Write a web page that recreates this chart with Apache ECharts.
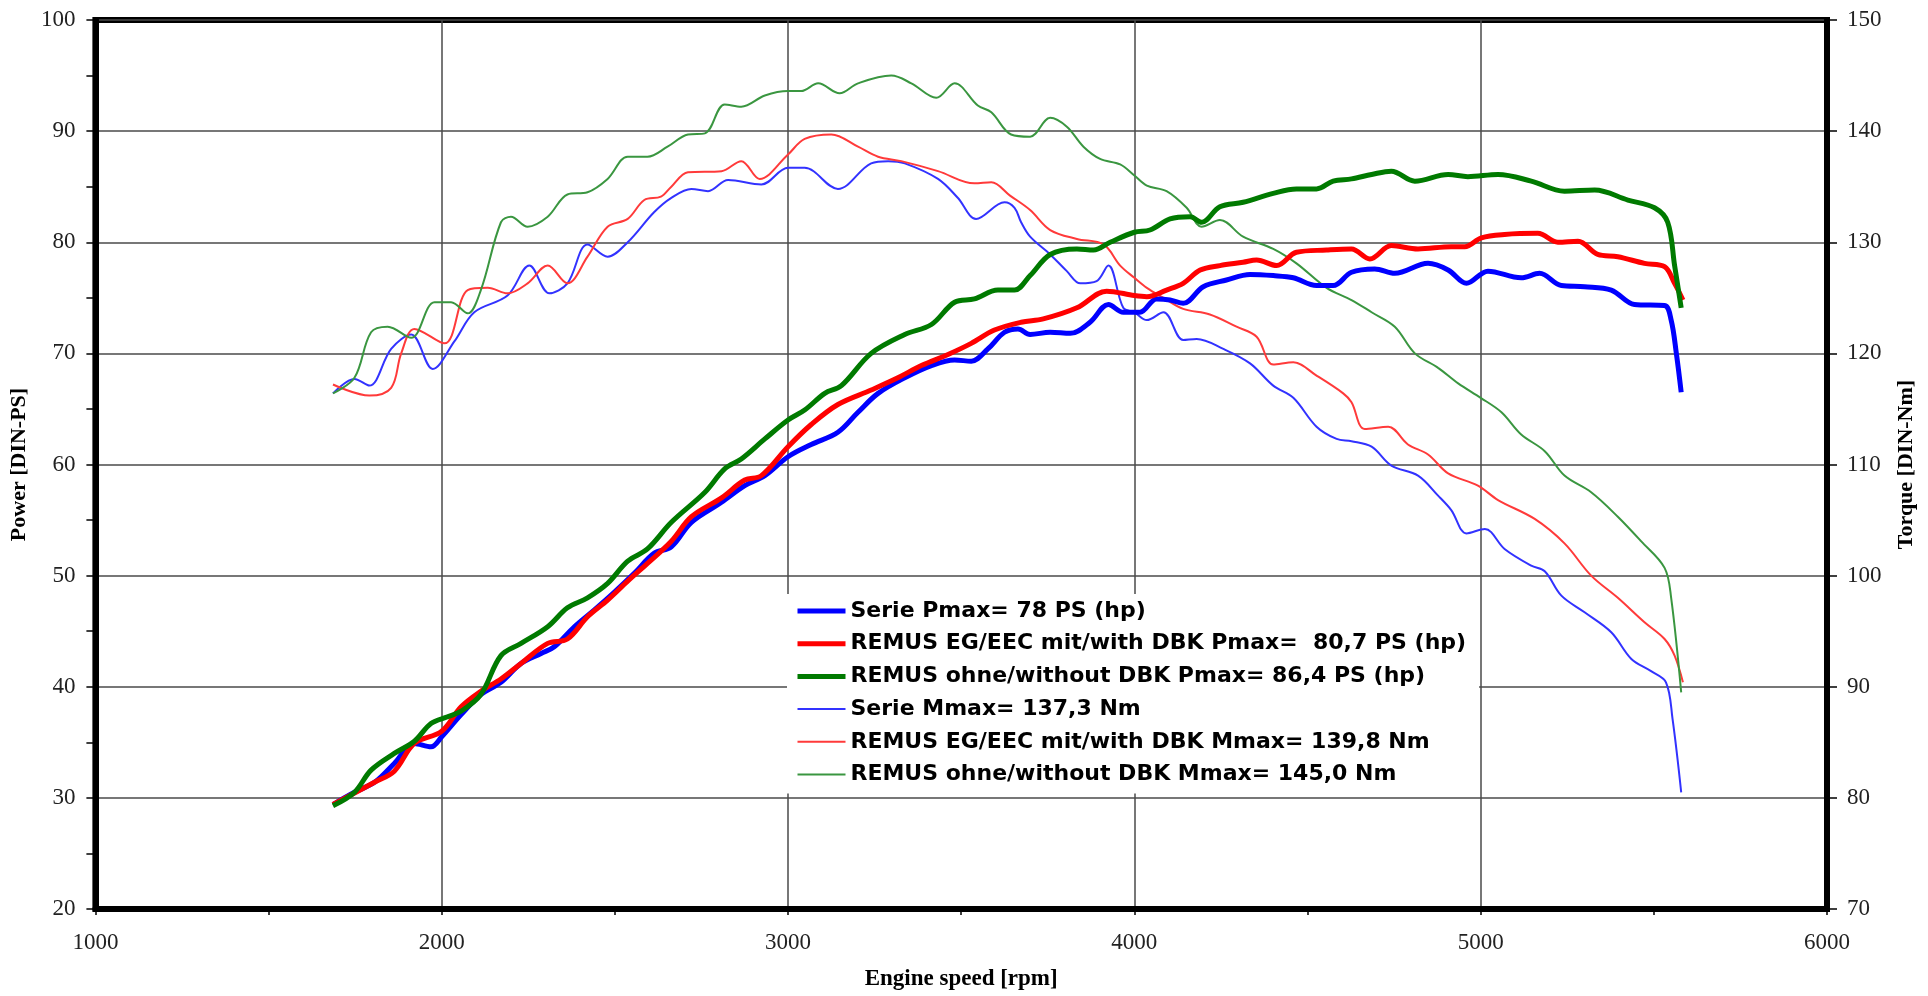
<!DOCTYPE html>
<html>
<head>
<meta charset="utf-8">
<title>Dyno chart</title>
<script src="https://cdn.jsdelivr.net/npm/echarts@6/dist/echarts.min.js"></script>
<style>
  html, body { margin: 0; padding: 0; background: #fff; }
  #chart { width: 1928px; height: 996px; }
</style>
</head>
<body>
<div id="chart"></div>
<script>
// engine speed (rpm) and values, one pair of arrays per curve
var serieP_rpm = [1686, 1748, 1806, 1863, 1921, 1969, 2000, 2056, 2113, 2171, 2229, 2287, 2325, 2383, 2440, 2498, 2556, 2613, 2663, 2721, 2808, 2875, 2933, 3000, 3067, 3144, 3202, 3260, 3337, 3414, 3481, 3529, 3577, 3625, 3664, 3699, 3757, 3815, 3872, 3925, 3968, 4016, 4064, 4103, 4141, 4199, 4266, 4334, 4401, 4459, 4526, 4574, 4627, 4694, 4752, 4848, 4906, 4959, 5021, 5117, 5170, 5233, 5300, 5377, 5444, 5531, 5550, 5565, 5579];
var serieP = [29.4, 30.5, 31.4, 33.1, 34.9, 34.6, 35.5, 37.5, 39.3, 40.4, 42.1, 43.0, 43.6, 45.4, 46.9, 48.5, 50.2, 52.0, 52.6, 54.8, 56.6, 58.1, 59.0, 60.7, 61.8, 62.9, 64.7, 66.4, 67.8, 68.9, 69.4, 69.3, 70.4, 71.9, 72.2, 71.7, 71.9, 71.8, 72.8, 74.4, 73.7, 73.7, 74.9, 74.8, 74.5, 76.0, 76.6, 77.1, 77.0, 76.8, 76.1, 76.1, 77.3, 77.6, 77.2, 78.1, 77.5, 76.3, 77.4, 76.8, 77.2, 76.1, 76.0, 75.7, 74.4, 74.3, 73.0, 70.0, 66.5];

var egP_rpm = [1686, 1806, 1863, 1921, 2000, 2056, 2113, 2171, 2229, 2306, 2363, 2421, 2479, 2537, 2594, 2663, 2721, 2808, 2875, 2923, 3000, 3067, 3144, 3240, 3317, 3385, 3462, 3529, 3596, 3673, 3737, 3834, 3920, 4000, 4036, 4093, 4141, 4190, 4247, 4314, 4353, 4411, 4468, 4555, 4627, 4680, 4742, 4819, 4915, 4954, 5002, 5069, 5165, 5223, 5281, 5338, 5396, 5473, 5531, 5560, 5584];
var egP = [29.4, 31.4, 32.4, 34.9, 36.0, 38.2, 39.6, 40.7, 42.1, 43.9, 44.3, 46.3, 47.8, 49.5, 51.1, 53.1, 55.3, 57.0, 58.6, 59.0, 61.6, 63.6, 65.4, 66.7, 67.8, 68.9, 69.9, 70.9, 72.1, 72.8, 73.1, 74.1, 75.6, 75.2, 75.1, 75.7, 76.3, 77.5, 77.9, 78.2, 78.4, 77.9, 79.1, 79.3, 79.4, 78.5, 79.7, 79.4, 79.6, 79.6, 80.4, 80.7, 80.8, 80.0, 80.1, 78.9, 78.7, 78.1, 77.8, 76.3, 74.8];

var ohneP_rpm = [1686, 1748, 1796, 1863, 1921, 1969, 2017, 2056, 2113, 2171, 2229, 2306, 2363, 2421, 2479, 2537, 2594, 2663, 2760, 2817, 2865, 2933, 3000, 3048, 3106, 3154, 3240, 3337, 3414, 3481, 3538, 3606, 3654, 3699, 3757, 3834, 3882, 3930, 4000, 4045, 4103, 4161, 4194, 4247, 4314, 4401, 4468, 4526, 4574, 4627, 4685, 4742, 4810, 4906, 4963, 5050, 5146, 5242, 5329, 5425, 5502, 5540, 5560, 5579];
var ohneP = [29.3, 30.5, 32.5, 34.0, 35.1, 36.7, 37.3, 37.8, 39.3, 42.8, 43.9, 45.4, 47.1, 48.0, 49.3, 51.3, 52.4, 54.8, 57.5, 59.6, 60.5, 62.3, 64.0, 64.9, 66.4, 67.1, 70.0, 71.7, 72.6, 74.6, 74.9, 75.7, 75.7, 77.0, 78.9, 79.4, 79.3, 80.0, 80.9, 81.1, 82.1, 82.3, 81.8, 83.2, 83.6, 84.4, 84.8, 84.8, 85.5, 85.7, 86.1, 86.4, 85.5, 86.1, 85.9, 86.1, 85.5, 84.6, 84.7, 83.8, 83.1, 81.8, 77.9, 74.1];

var serieM_rpm = [1686, 1748, 1791, 1854, 1912, 1974, 2037, 2094, 2190, 2253, 2311, 2363, 2421, 2479, 2537, 2613, 2663, 2721, 2769, 2827, 2923, 3000, 3048, 3144, 3240, 3289, 3337, 3433, 3490, 3543, 3625, 3654, 3673, 3699, 3757, 3805, 3844, 3891, 3925, 3968, 4000, 4036, 4084, 4141, 4180, 4257, 4334, 4401, 4459, 4526, 4584, 4627, 4685, 4742, 4819, 4877, 4915, 4959, 5012, 5069, 5146, 5185, 5233, 5300, 5377, 5435, 5492, 5535, 5554, 5579];
var serieM = [116.4, 117.7, 117.1, 120.4, 121.7, 118.6, 121.1, 123.7, 125.2, 127.9, 125.4, 126.3, 129.8, 128.7, 130.0, 132.7, 134.0, 134.8, 134.6, 135.6, 135.2, 136.7, 136.7, 134.8, 137.1, 137.3, 137.1, 135.7, 134.0, 132.1, 133.6, 133.1, 131.8, 130.5, 128.9, 127.4, 126.3, 126.5, 127.9, 124.1, 123.7, 123.0, 123.7, 121.2, 121.3, 120.4, 119.1, 117.1, 116.0, 113.4, 112.3, 112.1, 111.6, 109.9, 109.0, 107.2, 105.9, 103.8, 104.2, 102.4, 100.9, 100.4, 98.2, 96.7, 94.9, 92.5, 91.4, 90.4, 87.1, 80.5];

var egM_rpm = [1686, 1791, 1854, 1883, 1921, 2008, 2075, 2133, 2190, 2248, 2306, 2363, 2421, 2479, 2537, 2585, 2633, 2663, 2711, 2808, 2865, 2918, 3000, 3048, 3125, 3202, 3260, 3327, 3433, 3538, 3587, 3641, 3699, 3757, 3834, 3911, 3959, 4000, 4036, 4084, 4141, 4218, 4295, 4353, 4401, 4459, 4526, 4603, 4627, 4665, 4733, 4790, 4848, 4906, 4992, 5050, 5156, 5242, 5319, 5396, 5473, 5531, 5560, 5584];
var egM = [117.2, 116.2, 116.9, 120.0, 122.2, 120.9, 125.7, 125.9, 125.4, 126.3, 127.9, 126.3, 128.7, 131.4, 132.1, 133.8, 134.1, 135.0, 136.3, 136.4, 137.3, 135.7, 137.9, 139.3, 139.7, 138.6, 137.7, 137.3, 136.4, 135.3, 135.4, 134.2, 132.9, 131.1, 130.3, 129.8, 127.9, 126.8, 125.9, 125.0, 124.0, 123.5, 122.4, 121.5, 119.0, 119.2, 118.0, 116.4, 115.6, 113.2, 113.4, 111.8, 110.9, 109.2, 108.1, 106.8, 105.1, 102.9, 100.0, 98.0, 95.8, 94.3, 92.8, 90.4];

var ohneM_rpm = [1686, 1748, 1796, 1844, 1912, 1979, 2027, 2075, 2113, 2171, 2200, 2248, 2306, 2363, 2421, 2479, 2537, 2594, 2652, 2711, 2760, 2817, 2865, 2933, 3000, 3038, 3087, 3149, 3202, 3298, 3356, 3428, 3481, 3548, 3587, 3644, 3699, 3757, 3805, 3853, 3901, 3959, 4000, 4036, 4093, 4151, 4194, 4247, 4314, 4401, 4468, 4555, 4627, 4685, 4752, 4810, 4877, 4935, 5000, 5060, 5117, 5185, 5242, 5319, 5396, 5463, 5531, 5550, 5579];
var ohneM = [116.4, 117.8, 121.9, 122.4, 121.4, 124.6, 124.6, 123.6, 125.7, 131.8, 132.3, 131.4, 132.3, 134.3, 134.5, 135.7, 137.7, 137.7, 138.6, 139.7, 139.8, 142.4, 142.2, 143.2, 143.6, 143.6, 144.3, 143.4, 144.3, 145.0, 144.3, 143.0, 144.3, 142.3, 141.7, 139.7, 139.5, 141.2, 140.4, 138.6, 137.5, 137.0, 136.0, 135.1, 134.6, 133.1, 131.4, 132.0, 130.5, 129.4, 128.1, 125.9, 124.8, 123.7, 122.4, 120.0, 118.7, 117.3, 116.0, 114.7, 112.7, 111.2, 109.0, 107.5, 105.3, 103.1, 100.7, 98.0, 89.5];

var names = [
  'Serie Pmax= 78 PS (hp)',
  'REMUS EG/EEC mit/with DBK Pmax=  80,7 PS (hp)',
  'REMUS ohne/without DBK Pmax= 86,4 PS (hp)',
  'Serie Mmax= 137,3 Nm',
  'REMUS EG/EEC mit/with DBK Mmax= 139,8 Nm',
  'REMUS ohne/without DBK Mmax= 145,0 Nm'
];

var powerTicks = [20, 30, 40, 50, 60, 70, 80, 90, 100];
var torqueTicks = [70, 80, 90, 100, 110, 120, 130, 140, 150];
var rpmTicks = [1000, 2000, 3000, 4000, 5000, 6000];

function zip(xs, ys) {
  var out = [];
  for (var i = 0; i < xs.length; i++) {
    out.push([xs[i], ys[i]]);
  }
  return out;
}

function curve(name, xs, ys, color, width, axis) {
  return {
    name: name,
    type: 'line',
    yAxisIndex: axis,
    smooth: 0.35,
    symbol: 'none',
    showSymbol: false,
    lineStyle: { color: color, width: width },
    itemStyle: { color: color },
    z: width > 3 ? 4 : 3,
    data: zip(xs, ys)
  };
}

// legend rows: thick strokes for power, thin ones for torque
var legendData = names.map(function (n, i) {
  return { name: n, lineStyle: { width: i < 3 ? 5 : 2 } };
});

var serif = 'Liberation Serif';
var chart = echarts.init(document.getElementById('chart'));

var option = {
  animation: false,
  backgroundColor: '#fff',
  grid: {
    left: 94, right: 101, top: 20, bottom: 83,
    show: true,
    borderColor: '#000',
    borderWidth: 6
  },
  legend: {
    orient: 'vertical',
    left: 787,
    top: 594,
    backgroundColor: '#fff',
    padding: [6, 13, 8, 8],
    itemWidth: 48,
    itemHeight: 14,
    itemGap: 10.7,
    selectedMode: false,
    itemStyle: { opacity: 0 },
    textStyle: {
      fontFamily: 'DejaVu Sans',
      fontWeight: 'bold',
      fontSize: 22,
      lineHeight: 20,
      color: '#000'
    },
    data: legendData
  },
  xAxis: {
    type: 'value',
    min: rpmTicks[0],
    max: rpmTicks[rpmTicks.length - 1],
    interval: 1000,
    name: 'Engine speed [rpm]',
    nameLocation: 'middle',
    nameGap: 59,
    nameTextStyle: { fontFamily: serif, fontWeight: 'bold', fontSize: 23, color: '#000' },
    axisLine: { lineStyle: { color: '#000', width: 6 } },
    axisTick: { length: 6, lineStyle: { color: '#000', width: 1.5 } },
    minorTick: { show: true, splitNumber: 2, length: 6, lineStyle: { color: '#000', width: 1.5 } },
    splitLine: { show: true, lineStyle: { color: '#4a4a4a', width: 1.5 } },
    axisLabel: {
      fontFamily: serif, fontSize: 23, color: '#222', margin: 22,
      formatter: function (v) { return String(v); }
    }
  },
  yAxis: [
    {
      type: 'value',
      position: 'left',
      min: powerTicks[0],
      max: powerTicks[powerTicks.length - 1],
      interval: 10,
      name: 'Power [DIN-PS]',
      nameLocation: 'middle',
      nameRotate: 90,
      nameGap: 54,
      nameTextStyle: { fontFamily: serif, fontWeight: 'bold', fontSize: 22, color: '#000' },
      axisLine: { show: true, lineStyle: { color: '#000', width: 6 } },
      axisTick: { show: true, length: 9, lineStyle: { color: '#000', width: 1.5 } },
      minorTick: { show: true, splitNumber: 2, length: 9, lineStyle: { color: '#000', width: 1.5 } },
      splitLine: { show: true, lineStyle: { color: '#4a4a4a', width: 1.5 } },
      axisLabel: { fontFamily: serif, fontSize: 23, color: '#222', margin: 20 }
    },
    {
      type: 'value',
      position: 'right',
      min: torqueTicks[0],
      max: torqueTicks[torqueTicks.length - 1],
      interval: 10,
      name: 'Torque [DIN-Nm]',
      nameLocation: 'middle',
      nameRotate: 90,
      nameGap: 68,
      nameTextStyle: { fontFamily: serif, fontWeight: 'bold', fontSize: 22, color: '#000' },
      axisLine: { show: true, lineStyle: { color: '#000', width: 6 } },
      axisTick: { show: true, length: 10, lineStyle: { color: '#000', width: 1.5 } },
      splitLine: { show: false },
      axisLabel: { fontFamily: serif, fontSize: 23, color: '#222', margin: 20 }
    }
  ],
  series: [
    curve(names[3], serieM_rpm, serieM, '#3232ff', 2, 1),
    curve(names[4], egM_rpm, egM, '#ff3a3a', 2, 1),
    curve(names[5], ohneM_rpm, ohneM, '#3a9640', 2, 1),
    curve(names[0], serieP_rpm, serieP, '#0000ff', 5, 0),
    curve(names[1], egP_rpm, egP, '#ff0000', 5, 0),
    curve(names[2], ohneP_rpm, ohneP, '#007a00', 5, 0)
  ]
};

chart.setOption(option);
</script>
</body>
</html>
